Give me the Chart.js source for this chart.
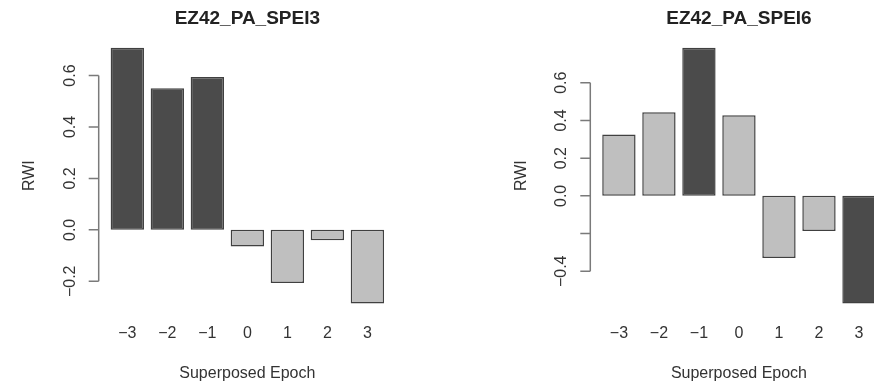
<!DOCTYPE html>
<html>
<head>
<meta charset="utf-8">
<script src="https://cdn.jsdelivr.net/npm/chart.js@4/dist/chart.umd.min.js"></script>
<style>
    html, body { margin: 0; padding: 0; background: #fff; overflow: hidden; width: 874px; height: 384px; }
    #panel-left { position: absolute; left: 0; top: 0; }
    #panel-right { position: absolute; left: 437px; top: 0; }
</style>
</head>
<body>
<canvas id="panel-left" width="437" height="384"></canvas>
<canvas id="panel-right" width="520" height="384"></canvas>
<script>
// superposed epochs (x) and labels
const epochs = [-3, -2, -1, 0, 1, 2, 3];
const epochLabels = ['\u22123', '\u22122', '\u22121', '0', '1', '2', '3'];

// mean RWI per epoch
const spei3Values = [0.708, 0.551, 0.594, -0.065, -0.207, -0.040, -0.286];
const spei6Values = [0.326, 0.443, 0.786, 0.428, -0.329, -0.186, -0.571];

// significant epochs are drawn dark
const spei3Significant = [true, true, true, false, false, false, false];
const spei6Significant = [false, false, true, false, false, false, true];

// y axis ticks
const spei3Ticks = [-0.2, 0, 0.2, 0.4, 0.6];
const spei3TickLabels = ['\u22120.2', '0.0', '0.2', '0.4', '0.6'];
const spei6Ticks = [-0.4, -0.2, 0, 0.2, 0.4, 0.6];
const spei6TickLabels = ['\u22120.4', '', '0.0', '0.2', '0.4', '0.6'];

const FONT = "'Liberation Sans', Arial, Helvetica, sans-serif";
const DARK = '#4b4b4b';
const LIGHT = '#bfbfbf';

Chart.defaults.font.family = FONT;
Chart.defaults.animation = false;

// R style y axis: line only between first and last tick, labels turned 90deg
const rAxisPlugin = {
    id: 'rAxis',
    afterDraw(chart, args, opts) {
        const ctx = chart.ctx;
        const y = chart.scales.y;
        const area = chart.chartArea;
        const x0 = area.left - 1;
        const top = y.getPixelForValue(opts.ticks[opts.ticks.length - 1]);
        const bottom = y.getPixelForValue(opts.ticks[0]);
        ctx.save();
        ctx.strokeStyle = '#7a7a7a';
        ctx.lineWidth = 1.5;
        ctx.beginPath();
        ctx.moveTo(x0, top);
        ctx.lineTo(x0, bottom);
        opts.ticks.forEach(v => {
            const py = y.getPixelForValue(v);
            ctx.moveTo(x0, py);
            ctx.lineTo(x0 - 10, py);
        });
        ctx.stroke();

        ctx.fillStyle = '#333';
        ctx.font = '16px ' + FONT;
        ctx.textAlign = 'center';
        ctx.textBaseline = 'middle';
        opts.ticks.forEach((v, i) => {
            const py = y.getPixelForValue(v);
            ctx.save();
            ctx.translate(x0 - 28.5, py);
            ctx.rotate(-Math.PI / 2);
            ctx.fillText(opts.labels[i], 0, 0);
            ctx.restore();
        });

        // axis title
        ctx.save();
        ctx.translate(x0 - 69, (area.top + area.bottom) / 2);
        ctx.rotate(-Math.PI / 2);
        ctx.fillText('RWI', 0, 0);
        ctx.restore();
        ctx.restore();
    }
};

function makePanel(id, title, values, significant, yMin, yMax, ticks, tickLabels, padLeft, padRight) {
    const data = epochs.map((e, i) => ({ x: e, y: values[i] }));
    const colors = significant.map(s => s ? DARK : LIGHT);

    return new Chart(document.getElementById(id), {
        type: 'bar',
        data: {
            datasets: [{
                data: data,
                backgroundColor: colors,
                borderColor: '#404040',
                borderWidth: 1.5,
                borderSkipped: false,
                barPercentage: 1 / 1.2,
                categoryPercentage: 1
            }]
        },
        plugins: [rAxisPlugin],
        options: {
            responsive: false,
            devicePixelRatio: 1,
            layout: { padding: { left: padLeft, right: padRight, top: 0, bottom: 0 } },
            plugins: {
                legend: { display: false },
                tooltip: { enabled: false },
                title: {
                    display: true,
                    text: title,
                    fullSize: false,
                    color: '#222',
                    font: { size: 19, weight: 'bold' },
                    padding: { top: 7.6, bottom: 7.1 }
                },
                rAxis: { ticks: ticks, labels: tickLabels }
            },
            scales: {
                x: {
                    type: 'linear',
                    offset: false,
                    min: -3.69,
                    max: 3.69,
                    afterBuildTicks: scale => {
                        scale.ticks = epochs.map(v => ({ value: v }));
                    },
                    grid: { display: false, drawTicks: false, offset: false },
                    border: { display: false },
                    ticks: {
                        autoSkip: false,
                        maxRotation: 0,
                        padding: 10,
                        color: '#333',
                        font: { size: 16 },
                        callback: function (value) {
                            return epochLabels[epochs.indexOf(value)];
                        }
                    },
                    title: {
                        display: true,
                        text: 'Superposed Epoch',
                        color: '#333',
                        font: { size: 16 },
                        padding: { top: 10.8, bottom: 1.1 }
                    }
                },
                y: {
                    display: false,
                    min: yMin,
                    max: yMax
                }
            }
        }
    });
}

makePanel('panel-left', 'EZ42_PA_SPEI3', spei3Values, spei3Significant,
    -0.326, 0.748, spei3Ticks, spei3TickLabels, 99.7, 42);
makePanel('panel-right', 'EZ42_PA_SPEI6', spei6Values, spei6Significant,
    -0.625, 0.84, spei6Ticks, spei6TickLabels, 154.3, 70.4);
</script>
</body>
</html>
